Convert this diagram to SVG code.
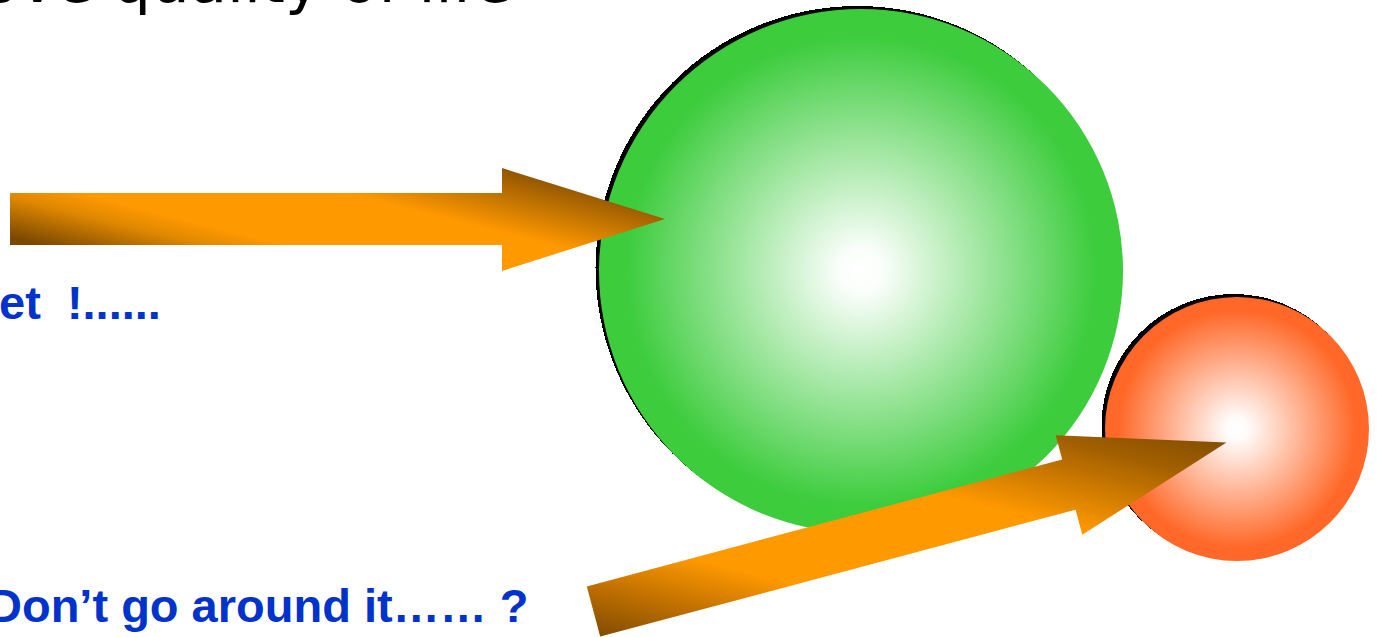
<svg xmlns="http://www.w3.org/2000/svg" width="1377" height="637" viewBox="0 0 1377 637">
  <style>
    .title { font-family: "DejaVu Sans", Verdana, sans-serif; font-size: 61px; fill: #000000; }
    .label { font-family: "Liberation Sans", Arial, sans-serif; font-size: 47px; font-weight: bold; fill: #0033CC; }
    .shadow { fill: #000000; }
  </style>
  <defs>
    <radialGradient id="gGreen" cx="0.5" cy="0.5" r="0.5">
      <stop offset="0" stop-color="#FFFFFF"/>
      <stop offset="0.08" stop-color="#FBFEFB"/>
      <stop offset="0.9" stop-color="#3CCC3C"/>
      <stop offset="1" stop-color="#3CCC3C"/>
    </radialGradient>
    <radialGradient id="gOrange" cx="0.5" cy="0.5" r="0.5">
      <stop offset="0" stop-color="#FFFFFF"/>
      <stop offset="0.08" stop-color="#FFFCFB"/>
      <stop offset="0.9" stop-color="#FF6828"/>
      <stop offset="1" stop-color="#FF6828"/>
    </radialGradient>
    <linearGradient id="gArrowTop" gradientUnits="userSpaceOnUse" x1="60" y1="250" x2="108.5" y2="56">
      <stop offset="0" stop-color="#7A4800"/>
      <stop offset="0.2" stop-color="#E08800"/>
      <stop offset="0.3" stop-color="#FF9900"/>
      <stop offset="0.62" stop-color="#FF9900"/>
      <stop offset="0.95" stop-color="#8B5200"/>
    </linearGradient>
    <linearGradient id="gArrowBottom" gradientUnits="userSpaceOnUse" x1="600" y1="644.8" x2="686.1" y2="300.4">
      <stop offset="0" stop-color="#774600"/>
      <stop offset="0.16" stop-color="#C07000"/>
      <stop offset="0.3" stop-color="#FF9900"/>
      <stop offset="0.64" stop-color="#FF9900"/>
      <stop offset="0.88" stop-color="#A05E00"/>
      <stop offset="1" stop-color="#7E4C00"/>
    </linearGradient>
  </defs>

  <rect width="1377" height="637" fill="#FFFFFF"/>

  <g id="title">
    <text class="title" x="-18" y="1.5">ove quality of life</text>
  </g>

  <g id="label-top">
    <text class="label" x="-1" y="319" xml:space="preserve">et  !......</text>
  </g>

  <g id="label-bottom">
    <text class="label" x="-12" y="622">Don’t go around it…… ?</text>
  </g>

  <g id="node-green">
    <circle class="shadow" cx="857.5" cy="268" r="262" shape-rendering="crispEdges"/>
    <circle cx="861" cy="271" r="262" fill="url(#gGreen)"/>
  </g>

  <g id="node-orange">
    <circle class="shadow" cx="1233.5" cy="426" r="132" shape-rendering="crispEdges"/>
    <circle cx="1237" cy="429" r="132" fill="url(#gOrange)"/>
  </g>

  <g id="connectors">
    <path id="arrow-top" d="M10,193 L502,193 L502,168 L665,219 L502,271 L502,245 L10,245 Z" fill="url(#gArrowTop)"/>
    <path id="arrow-bottom" d="M586.8,586.4 L1062.2,459.4 L1055.7,435.3 L1226.4,442.5 L1082.3,534.8 L1075.6,509.7 L600.2,636.6 Z" fill="url(#gArrowBottom)"/>
  </g>
</svg>
